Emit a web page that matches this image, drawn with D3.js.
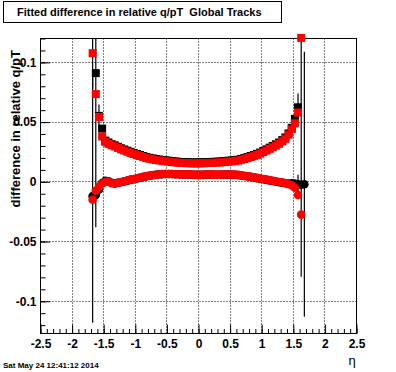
<!DOCTYPE html>
<html lang="en">
<head>
    <meta charset="UTF-8">
    <title>Fitted difference in relative q/pT  Global Tracks</title>
    <style>
        body { margin: 0; background: #fff; }
        svg text { font-family: "Liberation Sans", Arial, Helvetica, sans-serif; }
        .axis path { display: none; }
        .axis line { stroke: #000; }
        .axis text { font-size: 12px; font-weight: bold; fill: #000; }
    </style>
</head>
<body>
    <div id="chart"></div>

    <script src="https://d3js.org/d3.v7.min.js"></script>
    <script>
        // eta bin centres (0.05 wide)
        const etaBins = [-1.675,-1.625,-1.575,-1.525,-1.475,-1.425,-1.375,-1.325,-1.275,-1.225,
            -1.175,-1.125,-1.075,-1.025,-0.975,-0.925,-0.875,-0.825,-0.775,-0.725,
            -0.675,-0.625,-0.575,-0.525,-0.475,-0.425,-0.375,-0.325,-0.275,-0.225,
            -0.175,-0.125,-0.075,-0.025,0.025,0.075,0.125,0.175,0.225,0.275,
            0.325,0.375,0.425,0.475,0.525,0.575,0.625,0.675,0.725,0.775,
            0.825,0.875,0.925,0.975,1.025,1.075,1.125,1.175,1.225,1.275,
            1.325,1.375,1.425,1.475,1.525,1.575,1.625,1.675];

        // upper branch (square markers)
        const blackUpper = [null,0.0910,0.0552,0.0446,0.0345,0.0330,0.0315,0.0306,0.0293,0.0281,
            0.0271,0.0261,0.0251,0.0241,0.0233,0.0225,0.0216,0.0207,0.0201,0.0196,
            0.0191,0.0187,0.0183,0.0180,0.0177,0.0174,0.0171,0.0168,0.0166,0.0165,
            0.0164,0.0163,0.0162,0.0162,0.0163,0.0164,0.0165,0.0166,0.0167,0.0168,
            0.0170,0.0172,0.0174,0.0177,0.0179,0.0181,0.0185,0.0192,0.0199,0.0208,
            0.0216,0.0224,0.0234,0.0245,0.0258,0.0272,0.0286,0.0300,0.0314,0.0329,
            0.0349,0.0371,0.0405,0.0452,0.0527,0.0624,null,null];
        const redUpper = [0.1077,0.0735,0.0543,0.0380,0.0335,0.0318,0.0306,0.0296,0.0284,0.0272,
            0.0262,0.0252,0.0242,0.0232,0.0224,0.0216,0.0208,0.0199,0.0193,0.0188,
            0.0183,0.0179,0.0175,0.0172,0.0169,0.0166,0.0163,0.0160,0.0158,0.0157,
            0.0156,0.0155,0.0154,0.0154,0.0155,0.0156,0.0157,0.0158,0.0159,0.0160,
            0.0162,0.0164,0.0166,0.0169,0.0171,0.0173,0.0177,0.0184,0.0191,0.0199,
            0.0207,0.0215,0.0225,0.0236,0.0248,0.0262,0.0276,0.0290,0.0303,0.0318,
            0.0338,0.0360,0.0395,0.0440,0.0490,0.0580,0.1205,null];

        // lower branch (circle markers)
        const blackLower = [-0.0120,-0.0110,-0.0065,-0.0010,0.0008,0.0004,-0.0008,-0.0014,-0.0008,-0.0003,
            0.0004,0.0010,0.0016,0.0022,0.0028,0.0034,0.0040,0.0046,0.0051,0.0055,
            0.0059,0.0062,0.0064,0.0065,0.0065,0.0065,0.0064,0.0063,0.0062,0.0061,
            0.0061,0.0060,0.0059,0.0058,0.0058,0.0059,0.0060,0.0060,0.0060,0.0059,
            0.0059,0.0060,0.0060,0.0060,0.0060,0.0059,0.0057,0.0053,0.0049,0.0045,
            0.0041,0.0036,0.0031,0.0026,0.0021,0.0016,0.0012,0.0007,0.0002,-0.0003,
            -0.0007,-0.0012,-0.0015,-0.0012,-0.0015,-0.0020,-0.0025,-0.0020];
        const redLower = [-0.0150,-0.0075,-0.0040,-0.0015,0.0000,0.0002,-0.0012,-0.0016,-0.0008,-0.0002,
            0.0005,0.0011,0.0018,0.0024,0.0030,0.0036,0.0042,0.0048,0.0052,0.0056,
            0.0059,0.0062,0.0065,0.0066,0.0066,0.0065,0.0064,0.0063,0.0062,0.0062,
            0.0062,0.0061,0.0060,0.0059,0.0059,0.0060,0.0061,0.0061,0.0061,0.0060,
            0.0060,0.0061,0.0061,0.0061,0.0061,0.0060,0.0058,0.0054,0.0050,0.0046,
            0.0042,0.0038,0.0033,0.0028,0.0023,0.0019,0.0014,0.0009,0.0003,-0.0002,
            -0.0006,-0.0010,-0.0020,-0.0030,-0.0050,-0.0110,-0.0275,null];

        // errors (0 = hidden under the marker)
        const blackUpperErr = [0,0.129,0,0,0,0,0,0,0,0, 0,0,0,0,0,0,0,0,0,0, 0,0,0,0,0,0,0,0,0,0,
            0,0,0,0,0,0,0,0,0,0, 0,0,0,0,0,0,0,0,0,0, 0,0,0,0,0,0,0,0,0,0, 0,0,0,0,0,0.0116,0,0];
        const redUpperErr = [0.03,0,0.0105,0,0,0,0,0,0,0, 0,0,0,0,0,0,0,0,0,0, 0,0,0,0,0,0,0,0,0,0,
            0,0,0,0,0,0,0,0,0,0, 0,0,0,0,0,0,0,0,0,0, 0,0,0,0,0,0,0,0,0,0, 0,0,0,0,0,0,0.2,0];
        const blackLowerErr = [0,0,0,0,0,0,0,0,0,0, 0,0,0,0,0,0,0,0,0,0, 0,0,0,0,0,0,0,0,0,0,
            0,0,0,0,0,0,0,0,0,0, 0,0,0,0,0,0,0,0,0,0, 0,0,0,0,0,0,0,0,0,0, 0,0,0,0,0,0.008,0,0.111];
        const redLowerErr = [0.103,0,0,0,0,0,0,0,0,0, 0,0,0,0,0,0,0,0,0,0, 0,0,0,0,0,0,0,0,0,0,
            0,0,0,0,0,0,0,0,0,0, 0,0,0,0,0,0,0,0,0,0, 0,0,0,0,0,0,0,0,0,0, 0,0,0,0,0,0,0,0];

        const titleText = "Fitted difference in relative q/pT  Global Tracks";
        const yTitle = "difference in relative q/pT";
        const xTitle = "η";
        const dateText = "Sat May 24 12:41:12 2014";

        const W = 396, H = 372;
        const margin = { top: 38, right: 40, bottom: 39, left: 40 };
        const width = W - margin.left - margin.right;
        const height = H - margin.top - margin.bottom;

        const svg = d3.select("#chart").append("svg")
            .attr("width", W)
            .attr("height", H);

        // title box
        svg.append("rect")
            .attr("x", 3.5).attr("y", 1.5)
            .attr("width", 278).attr("height", 21)
            .attr("fill", "#fff").attr("stroke", "#000");
        svg.append("text")
            .attr("x", 17).attr("y", 16)
            .style("font-size", "11px").style("font-weight", "bold")
            .attr("xml:space", "preserve")
            .text(titleText);

        const g = svg.append("g")
            .attr("transform", `translate(${margin.left + 0.5},${margin.top + 0.5})`);

        const x = d3.scaleLinear().domain([-2.5, 2.5]).range([0, width]);
        const y = d3.scaleLinear().domain([-0.127, 0.12]).range([height, 0]);
        const fmt = d => String(+d.toFixed(3));

        g.append("defs").append("clipPath").attr("id", "frame")
            .append("rect").attr("width", width).attr("height", height);

        // grid (dotted)
        g.append("g").selectAll("line")
            .data(x.ticks(10).filter(d => d > -2.5 && d < 2.5))
            .enter().append("line")
            .attr("x1", d => Math.round(x(d))).attr("x2", d => Math.round(x(d)))
            .attr("y1", 0).attr("y2", height)
            .attr("stroke", "#000").attr("stroke-dasharray", "1,2");
        g.append("g").selectAll("line")
            .data(y.ticks(5))
            .enter().append("line")
            .attr("y1", d => Math.round(y(d))).attr("y2", d => Math.round(y(d)))
            .attr("x1", 0).attr("x2", width)
            .attr("stroke", "#000").attr("stroke-dasharray", "1,2");

        // axes: ticks point inward like ROOT
        g.append("g").attr("class", "axis")
            .attr("transform", `translate(0,${height})`)
            .call(d3.axisBottom(x).ticks(50).tickSizeInner(-4.5).tickSizeOuter(0).tickFormat(""));
        g.append("g").attr("class", "axis")
            .attr("transform", `translate(0,${height})`)
            .call(d3.axisBottom(x).ticks(10).tickSizeInner(-9).tickSizeOuter(0).tickPadding(6).tickFormat(fmt));
        g.append("g").attr("class", "axis")
            .call(d3.axisLeft(y).ticks(25).tickSizeInner(-5).tickSizeOuter(0).tickFormat(""));
        g.append("g").attr("class", "axis")
            .call(d3.axisLeft(y).ticks(5).tickSizeInner(-9.5).tickSizeOuter(0).tickPadding(4).tickFormat(fmt));

        // frame
        g.append("rect")
            .attr("width", width).attr("height", height)
            .attr("fill", "none").attr("stroke", "#000");

        const series = [
            { vals: blackUpper, errs: blackUpperErr, color: "#000", shape: "square" },
            { vals: blackLower, errs: blackLowerErr, color: "#000", shape: "circle" },
            { vals: redUpper, errs: redUpperErr, color: "#f00", shape: "square" },
            { vals: redLower, errs: redLowerErr, color: "#f00", shape: "circle" }
        ];
        const pts = s => etaBins.map((e, i) => ({ eta: e, v: s.vals[i], err: s.errs[i] }))
            .filter(d => d.v !== null);

        // error bars first, then markers on top
        const errG = g.append("g").attr("clip-path", "url(#frame)");
        series.forEach(s => {
            errG.selectAll(null)
                .data(pts(s).filter(d => d.err > 0))
                .enter().append("line")
                .attr("x1", d => x(d.eta)).attr("x2", d => x(d.eta))
                .attr("y1", d => y(d.v + d.err)).attr("y2", d => y(d.v - d.err))
                .attr("stroke", "#000").attr("stroke-width", 1.2);
        });

        series.forEach(s => {
            const m = g.append("g").attr("fill", s.color);
            if (s.shape === "square") {
                m.selectAll("rect").data(pts(s)).enter().append("rect")
                    .attr("x", d => x(d.eta) - 4).attr("y", d => y(d.v) - 4)
                    .attr("width", 8).attr("height", 8);
            } else {
                m.selectAll("circle").data(pts(s)).enter().append("circle")
                    .attr("cx", d => x(d.eta)).attr("cy", d => y(d.v))
                    .attr("r", 4.3);
            }
        });

        // axis titles
        svg.append("text")
            .attr("transform", `translate(19.5,50) rotate(-90)`)
            .attr("text-anchor", "end")
            .style("font-size", "13px").style("font-weight", "bold")
            .text(yTitle);
        svg.append("text")
            .attr("x", 352).attr("y", 365)
            .attr("text-anchor", "middle")
            .style("font-size", "13px")
            .text(xTitle);

        svg.append("text")
            .attr("x", 3).attr("y", 368)
            .style("font-size", "8px").style("font-weight", "bold")
            .text(dateText);
    </script>
</body>
</html>
